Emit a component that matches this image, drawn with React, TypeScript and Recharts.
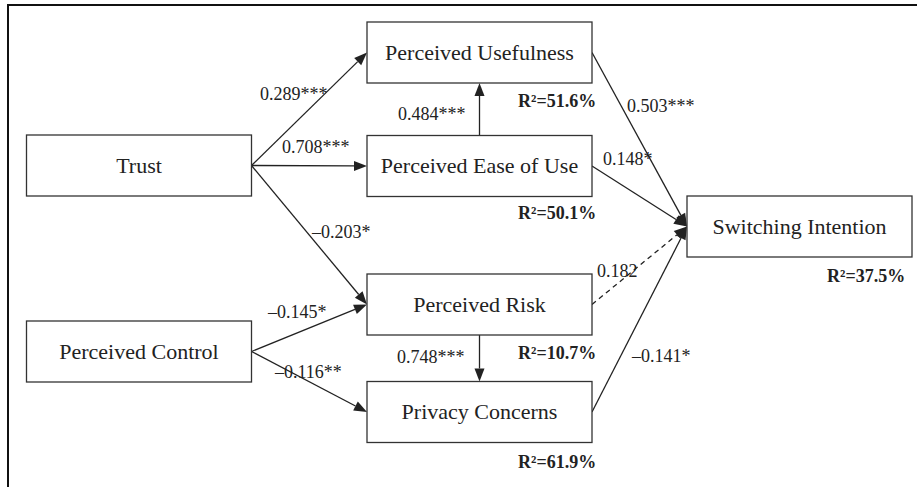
import React from 'react';
import { ScatterChart, Scatter, XAxis, YAxis, ReferenceLine, ReferenceDot } from 'recharts';

// constructs and their R² (empty for exogenous)
const NODES = ['Trust', 'Perceived Control', 'Perceived Usefulness', 'Perceived Ease of Use', 'Perceived Risk', 'Privacy Concerns', 'Switching Intention'];
const R2 = ['', '', 'R²=51.6%', 'R²=50.1%', 'R²=10.7%', 'R²=61.9%', 'R²=37.5%'];

// paths: from, to, coefficient, significant?
const EDGE_FROM = [0, 0, 0, 3, 1, 1, 4, 2, 3, 4, 5];
const EDGE_TO = [2, 3, 4, 2, 4, 5, 5, 6, 6, 6, 6];
const COEF = ['0.289***', '0.708***', '–0.203*', '0.484***', '–0.145*', '–0.116**', '0.748***', '0.503***', '0.148*', '0.182', '–0.141*'];
const SIG = [true, true, true, true, true, true, true, true, true, false, true];

// diagram layout (box centres, label anchors) in the 917x487 canvas units
const NODE_X = [139, 139, 479.5, 479.5, 479.5, 479.5, 799.5];
const NODE_Y = [165.5, 351.5, 52.5, 166, 304.5, 412, 226.5];
const PORT_FROM = ['r', 'r', 'r', 't', 'r', 'r', 'b', 'r', 'r', 'r', 'r'];
const PORT_TO = ['l', 'l', 'l', 'b', 'l', 'l', 't', 'l', 'l', 'l', 'l'];
const COEF_X = [260, 282, 312, 398, 268, 275, 397, 627, 603, 597, 632];
const COEF_Y = [100, 153, 238, 120, 318, 378, 363, 112, 165, 277, 362];
const R2_X = [0, 0, 518, 518, 518, 518, 827];
const R2_Y = [0, 0, 107, 219, 359, 468, 282];

const W = 917;
const H = 487;
const BOX_W = 225;
const BOX_H = 61;
const INK = '#222';
const FONT = '"Liberation Serif", "Times New Roman", serif';

const nodeData = NODES.map((name, i) => ({ name, x: NODE_X[i], y: NODE_Y[i] }));

function port(i: number, side: string) {
  const x = NODE_X[i];
  const y = NODE_Y[i];
  if (side === 'r') return { x: x + BOX_W / 2, y };
  if (side === 'l') return { x: x - BOX_W / 2, y };
  if (side === 't') return { x, y: y - BOX_H / 2 };
  return { x, y: y + BOX_H / 2 };
}

function NodeBox(props: any) {
  const { cx, cy, payload } = props;
  return (
    <g>
      <rect x={cx - BOX_W / 2} y={cy - BOX_H / 2} width={BOX_W} height={BOX_H} fill="#fff" stroke="#333" strokeWidth={1.3} />
      <text x={cx} y={cy + 7} textAnchor="middle" fontFamily={FONT} fontSize={22} fill={INK}>
        {payload.name}
      </text>
    </g>
  );
}

function arrowShape(dashed: boolean) {
  return (p: any) => {
    const { x1, y1, x2, y2 } = p;
    const a = Math.atan2(y2 - y1, x2 - x1);
    const L = 13;
    const hw = 5;
    const bx = x2 - L * Math.cos(a);
    const by = y2 - L * Math.sin(a);
    const pts = [
      `${x2},${y2}`,
      `${bx + hw * Math.sin(a)},${by - hw * Math.cos(a)}`,
      `${bx - hw * Math.sin(a)},${by + hw * Math.cos(a)}`,
    ].join(' ');
    return (
      <g>
        <line x1={x1} y1={y1} x2={bx} y2={by} stroke={INK} strokeWidth={1.3} strokeDasharray={dashed ? '5 4' : undefined} />
        <polygon points={pts} fill={INK} />
      </g>
    );
  };
}

function textShape(txt: string, bold: boolean) {
  return (p: any) => (
    <text x={p.cx} y={p.cy} fontFamily={FONT} fontSize={18} fontWeight={bold ? 'bold' : 'normal'} fill={INK}>
      {txt}
    </text>
  );
}

export default function App() {
  return (
    <div style={{ position: 'absolute', left: 0, top: 0, width: W, height: H, overflow: 'hidden', background: '#fff' }}>
      <div
        style={{
          position: 'absolute',
          left: 7,
          top: 4,
          width: W + 50,
          height: H + 50,
          border: '2px solid #111',
          boxSizing: 'border-box',
        }}
      />
      <div style={{ position: 'absolute', left: 0, top: 0 }}>
        <ScatterChart width={W} height={H} margin={{ top: 0, right: 0, bottom: 0, left: 0 }}>
          <XAxis type="number" dataKey="x" domain={[0, W]} allowDataOverflow hide />
          <YAxis type="number" dataKey="y" domain={[0, H]} allowDataOverflow reversed hide />
          {EDGE_FROM.map((f, i) => (
            <ReferenceLine
              key={`e-${i}`}
              segment={[port(f, PORT_FROM[i]), port(EDGE_TO[i], PORT_TO[i])]}
              ifOverflow="visible"
              shape={arrowShape(!SIG[i])}
            />
          ))}
          <Scatter data={nodeData} isAnimationActive={false} shape={(p: any) => <NodeBox {...p} />} />
          {COEF.map((c, i) => (
            <ReferenceDot key={`c-${i}`} x={COEF_X[i]} y={COEF_Y[i]} ifOverflow="visible" shape={textShape(c, false)} />
          ))}
          {R2.map((r, i) =>
            r ? <ReferenceDot key={`r-${i}`} x={R2_X[i]} y={R2_Y[i]} ifOverflow="visible" shape={textShape(r, true)} /> : null
          )}
        </ScatterChart>
      </div>
    </div>
  );
}
